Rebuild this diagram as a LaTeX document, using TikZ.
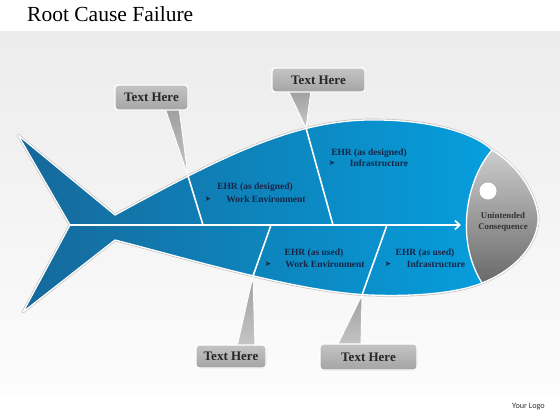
\documentclass[tikz,border=0pt]{standalone}
\usepackage{fontspec}
\setmainfont{Liberation Serif}
\newfontfamily\symfont{DejaVu Sans}
\newfontfamily\logofont{Carlito}
\usetikzlibrary{arrows.meta,shadows}
\definecolor{fishL}{RGB}{22,104,154}
\definecolor{fishR}{RGB}{4,164,228}
\definecolor{navy}{RGB}{24,38,70}
\definecolor{headT}{RGB}{205,205,205}
\definecolor{headB}{RGB}{105,105,105}
\definecolor{boxT}{RGB}{196,196,196}
\definecolor{boxB}{RGB}{164,164,164}
\definecolor{bgT}{RGB}{236,236,236}
\definecolor{bgB}{RGB}{252,252,252}
\tikzset{
  bone/.style={white, line width=1.6pt},
  callout/.style={rounded corners=3pt, draw=white, line width=1.4pt,
    top color=boxT, bottom color=boxB, text=black!85,
    font=\bfseries\fontsize{13}{15}\selectfont, inner sep=0pt,
    drop shadow={opacity=0.18, shadow xshift=0.8pt, shadow yshift=-0.8pt}},
  pointer/.style={draw=white, line width=0.9pt, top color=gray!75, bottom color=gray!45},
  flabel/.style={text=navy, font=\bfseries\fontsize{9.5}{11}\selectfont, inner sep=0pt},
  farrow/.style={text=navy, font=\symfont\fontsize{7.5}{8}\selectfont, inner sep=0pt}
}
\def\fishpath{(18,135) -- (115,215) .. controls (230,152) and (300,118) .. (380,120) .. controls (440,121) and (478,136) .. (492,150) .. controls (525,170) and (540,205) .. (538,222) .. controls (535,250) and (510,272) .. (482,283) .. controls (460,292) and (420,297) .. (370,295) .. controls (300,292) and (200,262) .. (115,240) -- (23,312) -- (70,225) -- cycle}
\begin{document}
\begin{tikzpicture}[x=1pt,y=-1pt]
\useasboundingbox (0,0) rectangle (560,420);
\fill[white] (0,0) rectangle (560,420);
\shade[top color=bgT, bottom color=bgB] (0,32) rectangle (560,395);
% title
\node[anchor=west, inner sep=0pt, font=\fontsize{21.5}{25}\selectfont] (title) at (27,14) {Root Cause Failure};
\node[inner sep=0pt, font=\logofont\fontsize{8.2}{10}\selectfont, text=black!80] (logo) at (528.5,407) {Your Logo};
% fish shadow + body
\draw[black!25, line width=2.6pt, line join=round] \fishpath;
\shade[left color=fishL, right color=fishR, draw=white, line width=1.3pt, line join=round] \fishpath;
% head
\shade[top color=headT, bottom color=headB, draw=white, line width=1.3pt]
  (492,150) .. controls (525,170) and (540,205) .. (538,222) .. controls (535,250) and (510,272) .. (482,283) .. controls (455,240) and (466,180) .. (492,150) -- cycle;
\fill[white] (488,191) circle (8.5);
% spine and bones
\coordinate (tailnotch) at (70,225);
\coordinate (spineend) at (461,225);
\coordinate (b1s) at (203,225); \coordinate (b1e) at (188,176);
\coordinate (b2s) at (333,225); \coordinate (b2e) at (306,128);
\coordinate (b3s) at (271,225); \coordinate (b3e) at (253,276);
\coordinate (b4s) at (387,225); \coordinate (b4e) at (362,295);
\draw[bone, -{Straight Barb[length=5pt,width=9pt,line width=1.6pt]}] (tailnotch) -- (spineend);
\draw[bone] (b1s) -- (b1e);
\draw[bone] (b2s) -- (b2e);
\draw[bone] (b3s) -- (b3e);
\draw[bone] (b4s) -- (b4e);
% head text
\node[inner sep=0pt, align=center, text=black!80, font=\bfseries\fontsize{8.8}{11.5}\selectfont] (head) at (503,222) {Unintended\\Consequence};
% fish labels
\node[flabel] (l1a) at (255,187) {EHR (as designed)};
\node[farrow] (l1b) at (208,199) {➤};
\node[flabel] (l1c) at (266,199) {Work Environment};
\node[flabel] (l2a) at (369,153) {EHR (as designed)};
\node[farrow] (l2b) at (332,163) {➤};
\node[flabel] (l2c) at (379,163) {Infrastructure};
\node[flabel] (l3a) at (314,253) {EHR (as used)};
\node[farrow] (l3b) at (268,264) {➤};
\node[flabel] (l3c) at (325,264) {Work Environment};
\node[flabel] (l4a) at (425,253) {EHR (as used)};
\node[farrow] (l4b) at (388,264) {➤};
\node[flabel] (l4c) at (436,264) {Infrastructure};
% callout pointers
\shade[pointer] (165,108) -- (b1e) -- (179,108) -- cycle;
\shade[pointer] (288,90) -- (b2e) -- (311,90) -- cycle;
\shade[pointer] (237,347) -- (b3e) -- (255,347) -- cycle;
\shade[pointer] (337,346) -- (b4e) -- (361,346) -- cycle;
% callout boxes
\node[callout, minimum width=73pt, minimum height=25pt] (c1) at (151.5,97.5) {Text Here};
\node[callout, minimum width=93pt, minimum height=24pt] (c2) at (318.5,80) {Text Here};
\node[callout, minimum width=70pt, minimum height=23pt] (c3) at (231,356.5) {Text Here};
\node[callout, minimum width=97pt, minimum height=26pt] (c4) at (368.5,357) {Text Here};
\end{tikzpicture}
\end{document}
